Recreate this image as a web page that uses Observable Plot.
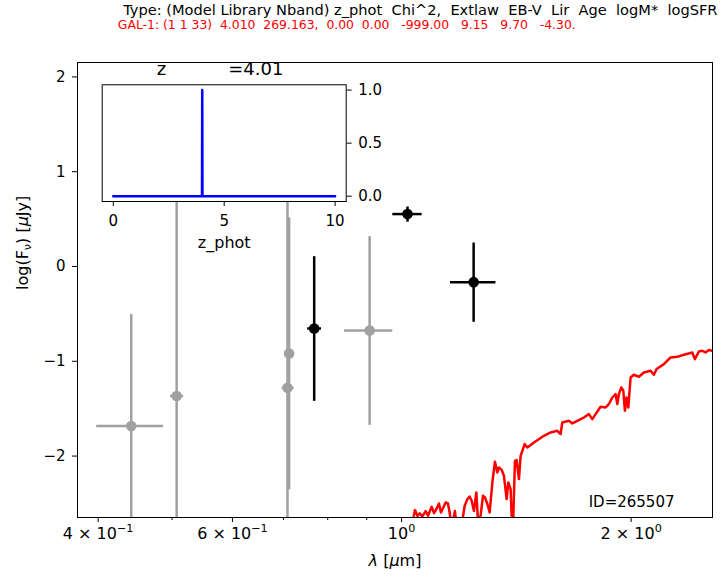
<!DOCTYPE html>
<html><head><meta charset="utf-8">
<script src="https://cdn.jsdelivr.net/npm/d3@7"></script>
<script src="https://cdn.jsdelivr.net/npm/@observablehq/plot@0.6"></script>
<style>
html,body{margin:0;padding:0;background:#fff;overflow:hidden;}
#fig{position:relative;width:725px;height:577px;overflow:hidden;font-family:"DejaVu Sans";}
#fig svg{position:absolute;left:0;top:0;}
</style></head><body><div id="fig"></div>
<script>
// ---- header text ----
const headerBlack = "Type: (Model Library Nband) z_phot  Chi^2,  Extlaw  EB-V  Lir  Age  logM*  logSFR";
const headerRed = "GAL-1: (1 1 33)  4.010  269.163,  0.00  0.00   -999.00   9.15   9.70   -4.30.";
const idLabel = "ID=265507";

// ---- photometry (gray = not used / low S/N, black = used) ----
const grayLam   = [0.442, 0.507, 0.7085, 0.712, 0.908];
const grayLamLo = [0.3976, 0.497, 0.696, 0.706, 0.8405];
const grayLamHi = [0.4867, 0.517, 0.722, 0.718, 0.9723];
const grayFlux  = [-1.684, -1.367, -1.280, -0.918, -0.675];
const grayErr   = [1.182, 2.6, 2.4, 1.434, 0.995];

const blackLam   = [0.768, 1.018, 1.243];
const blackLamLo = [0.752, 0.9723, 1.1573];
const blackLamHi = [0.784, 1.0623, 1.3277];
const blackFlux  = [-0.654, 0.553, -0.165];
const blackErr   = [0.763, 0.08, 0.418];

// ---- best-fit model SED (red) ----
const sedLam = [
1.0278,1.0412,1.0488,1.0560,1.0647,1.0753,1.0829,1.0950,1.1027,1.1117,
1.1194,1.1261,1.1423,1.1502,1.1561,1.1631,1.1748,1.1808,1.1952,1.2098,
1.2197,1.2281,1.2356,1.2442,1.2532,1.2620,1.2785,1.2862,1.2956,1.3046,
1.3153,1.3256,1.3353,1.3418,1.3527,1.3621,1.3733,1.3803,1.3899,1.3983,
1.4081,1.4153,1.4252,1.4325,1.4499,1.4618,1.4912,1.5369,1.5683,1.6003,
1.6163,1.6246,1.6573,1.6744,1.6999,1.7341,1.7605,1.7787,1.7965,1.8238,
1.8516,1.8701,1.8894,1.9083,1.9181,1.9274,1.9414,1.9532,1.9626,1.9727,
1.9829,1.9967,2.0167,2.0474,2.0786,2.1210,2.1422,2.1597,2.2078,2.2529,
2.2989,2.3452,2.4055,2.4244,2.4538,2.4791,2.5039,2.5290,2.5551,2.5885];
const sedFlux = [
-2.80,-2.570,-2.630,-2.605,-2.637,-2.580,-2.630,-2.535,-2.601,-2.553,
-2.500,-2.595,-2.489,-2.500,-2.595,-2.75,-2.580,-2.75,-2.80,-2.524,
-2.454,-2.426,-2.472,-2.580,-2.384,-2.80,-2.419,-2.437,-2.506,-2.595,
-2.278,-2.060,-2.173,-2.120,-2.145,-2.208,-2.454,-2.278,-2.348,-2.90,
-2.050,-2.042,-2.243,-1.997,-1.873,-1.909,-1.857,-1.786,-1.751,-1.733,
-1.768,-1.646,-1.628,-1.656,-1.628,-1.593,-1.557,-1.610,-1.557,-1.480,
-1.487,-1.451,-1.382,-1.346,-1.451,-1.346,-1.276,-1.311,-1.522,-1.382,
-1.487,-1.171,-1.142,-1.163,-1.118,-1.100,-1.142,-1.082,-1.030,-0.960,
-0.953,-0.931,-0.907,-0.977,-0.897,-0.889,-0.907,-0.882,-0.889,-0.875];

// ---- ticks ----
const xTicks = [0.4, 0.6, 1, 2];
const xTickLabels = ["4 × 10^{−1}", "6 × 10^{−1}", "10^{0}", "2 × 10^{0}"];
const xMinorTicks = [0.5, 0.7, 0.8, 0.9];
const yTicks = [-2, -1, 0, 1, 2];

// ---- inset: redshift PDF ----
const pdfZ = [0, 4.00, 4.01, 4.02, 10];
const pdfP = [0, 0, 1, 0, 0];
const insetXTicks = [0, 5, 10];
const insetYTicks = [0, 0.5, 1];
const zTitle = "z";
const zValue = "=4.01";

const FONT = "DejaVu Sans";
const GRAY = "#a0a0a0";

const gray = grayLam.map((x, i) => ({x, lo: grayLamLo[i], hi: grayLamHi[i], y: grayFlux[i], e: grayErr[i]}));
const black = blackLam.map((x, i) => ({x, lo: blackLamLo[i], hi: blackLamHi[i], y: blackFlux[i], e: blackErr[i]}));
const sed = sedLam.map((x, i) => ({x, y: sedFlux[i]}));
const pdf = pdfZ.map((z, i) => ({z, p: pdfP[i]}));

function errMarks(data, color) {
  return [
    Plot.link(data, {x1: "lo", x2: "hi", y1: "y", y2: "y", stroke: color, strokeWidth: 2.5, clip: true}),
    Plot.link(data, {x1: "x", x2: "x", y1: d => d.y - d.e, y2: d => d.y + d.e, stroke: color, strokeWidth: 2.5, clip: true}),
    Plot.dot(data, {x: "x", y: "y", r: 5.3, fill: color, stroke: null, clip: true})
  ];
}

const main = Plot.plot({
  width: 725, height: 577,
  marginLeft: 77, marginRight: 13, marginTop: 62, marginBottom: 60,
  style: {fontFamily: FONT, fontSize: "14px", background: "white", color: "black"},
  x: {type: "log", domain: [0.3758, 2.557], label: null},
  y: {domain: [-2.648, 2.152], label: null},
  marks: [
    ...errMarks(gray, GRAY),
    ...errMarks(black, "black"),
    Plot.line(sed, {x: "x", y: "y", stroke: "#ff0000", strokeWidth: 2.5, clip: true}),
    Plot.text([idLabel], {frameAnchor: "bottom-right", text: d => d, textAnchor: "end", lineAnchor: "middle", dx: -38, dy: -15.8, fontSize: 15, fill: "black"}),
    Plot.frame({stroke: "black", strokeWidth: 1}),
    Plot.axisX({ticks: xTicks, tickFormat: d => xTickLabels[xTicks.indexOf(d)], tickSize: 5, tickPadding: 5, fontSize: 16, label: null}),
    Plot.axisX({ticks: xMinorTicks, tickFormat: () => "", tickSize: 3, label: null}),
    Plot.axisY({ticks: yTicks, tickFormat: d => d < 0 ? "−" + Math.abs(d) : String(d), tickSize: 5, tickPadding: 7, fontSize: 15, label: null}),
    Plot.text(["*{λ} [*{μ}m]"], {frameAnchor: "bottom", text: d => d, dy: 43, lineAnchor: "middle", fontSize: 16, fill: "black"}),
    Plot.text(["log(F_{ν}) [*{μ}Jy]"], {frameAnchor: "left", text: d => d, dx: -55, rotate: -90, lineAnchor: "middle", fontSize: 16, fill: "black"}),
    Plot.text([headerBlack], {frameAnchor: "top-left", text: d => d, dx: 45.7, dy: -52.5, textAnchor: "start", lineAnchor: "middle", fontSize: 14.6, fill: "black"}),
    Plot.text([headerRed], {frameAnchor: "top-left", text: d => d, dx: 40.3, dy: -37.8, textAnchor: "start", lineAnchor: "middle", fontSize: 12.4, fill: "#ff0000"})
  ]
});

const inset = Plot.plot({
  width: 725, height: 577,
  marginLeft: 101.7, marginRight: 379.3, marginTop: 84.3, marginBottom: 376,
  style: {fontFamily: FONT, fontSize: "15px", background: "transparent", color: "black"},
  x: {domain: [-0.5, 10.5], label: null},
  y: {domain: [-0.05, 1.05], label: null},
  marks: [
    Plot.frame({fill: "white", stroke: null}),
    Plot.line(pdf, {x: "z", y: "p", stroke: "#0000ff", strokeWidth: 2.5}),
    Plot.frame({stroke: "black", strokeWidth: 1}),
    Plot.axisX({ticks: insetXTicks, tickSize: 5, tickPadding: 9, fontSize: 15, label: null}),
    Plot.axisY({anchor: "right", ticks: insetYTicks, tickFormat: d3.format(".1f"), tickSize: 5, tickPadding: 7, fontSize: 15, label: null}),
    Plot.text(["z_phot"], {frameAnchor: "bottom", text: d => d, dy: 40.9, lineAnchor: "middle", fontSize: 16, fill: "black"}),
    Plot.text([zTitle], {frameAnchor: "top-left", text: d => d, dx: 59.3, dy: -15.1, textAnchor: "middle", lineAnchor: "middle", fontSize: 18, fill: "black"}),
    Plot.text([zValue], {frameAnchor: "top-left", text: d => d, dx: 126, dy: -15.1, textAnchor: "start", lineAnchor: "middle", fontSize: 18, fill: "black"})
  ]
});

function richify(svg) {
  svg.querySelectorAll("text").forEach(t => {
    t.style.whiteSpace = "pre";
    const s = t.textContent;
    if (!/[\^_*]\{/.test(s)) return;
    const fs = parseFloat(getComputedStyle(t).fontSize) || 14;
    const segs = []; let i = 0, buf = "";
    while (i < s.length) {
      const c = s[i];
      if ((c === "^" || c === "_" || c === "*") && s[i + 1] === "{") {
        if (buf) { segs.push({t: "n", s: buf}); buf = ""; }
        const j = s.indexOf("}", i + 2);
        segs.push({t: c, s: s.slice(i + 2, j)}); i = j + 1;
      } else { buf += c; i++; }
    }
    if (buf) segs.push({t: "n", s: buf});
    while (t.firstChild) t.removeChild(t.firstChild);
    let shift = 0;
    for (const g of segs) {
      const ts = document.createElementNS("http://www.w3.org/2000/svg", "tspan");
      let target = 0;
      if (g.t === "^") { target = -0.42 * fs; ts.setAttribute("font-size", 0.7 * fs); }
      else if (g.t === "_") { target = 0.22 * fs; ts.setAttribute("font-size", 0.7 * fs); }
      else if (g.t === "*") { ts.setAttribute("font-style", "italic"); }
      ts.setAttribute("dy", target - shift); shift = target;
      ts.textContent = g.s;
      t.appendChild(ts);
    }
  });
}

const fig = document.getElementById("fig");
fig.appendChild(main);
fig.appendChild(inset);
richify(main);
richify(inset);
</script>
</body></html>
